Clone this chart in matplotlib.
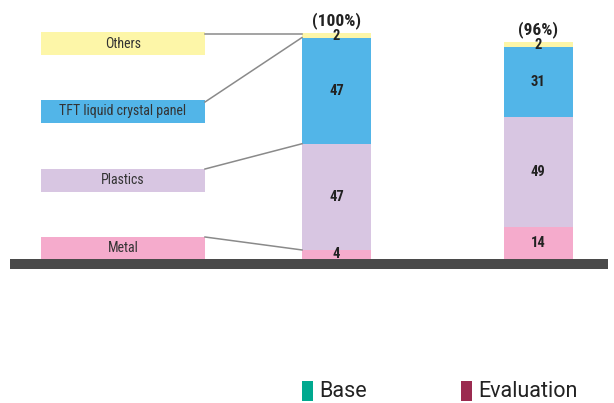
import matplotlib.pyplot as plt
from matplotlib.patches import Rectangle

# data
materials = ["Metal", "Plastics", "TFT liquid crystal panel", "Others"]
base_vals = [4, 47, 47, 2]
eval_vals = [14, 49, 31, 2]
totals = ["(100%)", "(96%)"]
legend_labels = ["Base", "Evaluation"]

colors = ["#f5abcc", "#d8c6e2", "#52b5e8", "#fdf6a8"]
legend_colors = ["#00a98f", "#9b2b50"]

cond = ["Roboto Condensed", "DejaVu Sans"]

W, H = 614, 403
fig = plt.figure(figsize=(W / 100, H / 100), dpi=100)
ax = fig.add_axes([0, 0, 1, 1])
y0, scale = 259, 2.26  # pixel row of zero, pixels per percent
ax.set_xlim(0, W)
ax.set_ylim(-(H - y0) / scale, y0 / scale)
ax.axis("off")


def py(p):
    # pixel row -> data y
    return (y0 - p) / scale


xs = [336.5, 538]
width = 69
for x, vals, tot in zip(xs, [base_vals, eval_vals], totals):
    bottom = 0
    for v, c in zip(vals, colors):
        ax.bar(x, v, width, bottom=bottom, color=c, linewidth=0)
        ty = bottom + v / 2 if v > 3 else bottom + v - 1.2
        if v == vals[0] and v <= 4:
            ty = bottom + v / 2 + 0.3
        ax.text(x, ty, str(v), ha="center", va="center", fontsize=10.5,
                fontweight="bold", family=cond, color="#222222")
        bottom += v
    ax.text(x, bottom + 1.9, tot, ha="center", va="bottom", fontsize=12.5,
            fontweight="bold", family=cond, color="#222222")

# baseline
ax.add_patch(Rectangle((10, py(269)), 598, py(259) - py(269), color="#4a4a4a", lw=0))

# label boxes with leader lines to the first bar
box_rows = [(237, 259), (169, 192), (100, 123), (32, 55)]
line_from = [237, 169, 102, 34]
tops = []
acc = 0
for v in base_vals:
    acc += v
    tops.append(acc)
line_to = [tops[0], tops[1], tops[2], py(34)]
for name, c, (t, b), lf, lt in zip(materials, colors, box_rows, line_from, line_to):
    ax.add_patch(Rectangle((41, py(b)), 164, py(t) - py(b), color=c, lw=0))
    ax.text(123, py((t + b) / 2), name, ha="center", va="center", fontsize=10,
            family=cond, color="#333333")
    ax.plot([205, xs[0] - width / 2], [py(lf), lt], color="#8a8a8a", lw=1.1)

# legend
for lx, lab, c in zip([302, 461], legend_labels, legend_colors):
    ax.add_patch(Rectangle((lx, py(401)), 11, py(381) - py(401), color=c, lw=0))
    ax.text(lx + 17, py(391.5), lab, ha="left", va="center", fontsize=15.5,
            family="Roboto", color="#222222")

fig.savefig("out.png", dpi=100)
